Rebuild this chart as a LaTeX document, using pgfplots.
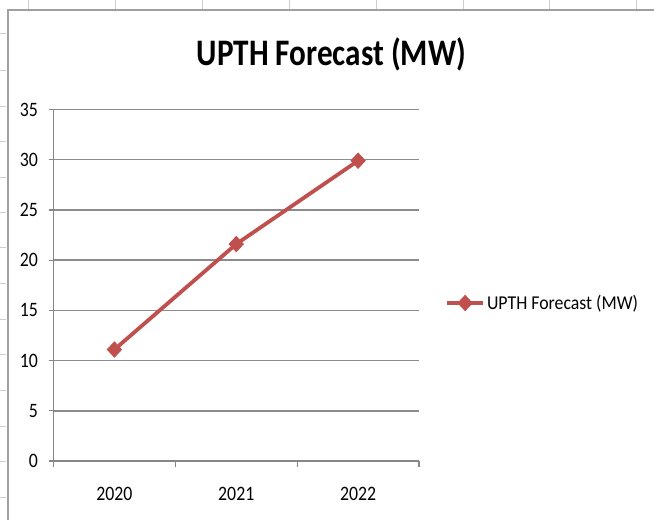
\documentclass[border=0pt]{standalone}
\usepackage{pgfplots}
\pgfplotsset{compat=1.18}
\usepackage{fontspec}
\setmainfont{Carlito}
\definecolor{axisgray}{RGB}{134,134,134}
\definecolor{gridgray}{RGB}{140,140,140}
\definecolor{linered}{RGB}{192,80,77}
\definecolor{framegray}{RGB}{160,160,160}
\definecolor{cellgray}{RGB}{205,205,205}
\begin{document}
\begin{tikzpicture}
\path[use as bounding box] (0,0) rectangle (654bp,520bp);
% spreadsheet background marks
\foreach \x in {28,115,202,289,376,463,549,636} \draw[cellgray, line width=0.8bp] (\x bp,520bp) -- (\x bp,511bp);
\foreach \y in {33,70,106,141,177,212,247,283,319,354,390,426,461,497} \draw[cellgray, line width=0.8bp] (0bp,520bp-\y bp) -- (6bp,520bp-\y bp);
% chart frame
\draw[framegray, line width=1.5bp] (8bp,-5bp) -- (8bp,510bp) -- (660bp,510bp);
% title
\node[anchor=base, inner sep=0pt] at (331.5bp,454bp) {\scalebox{1}[1.2]{\fontsize{31.2bp}{34bp}\selectfont\bfseries UPTH Forecast (MW)}};
\begin{axis}[
  at={(53.5bp,59bp)}, anchor=south west,
  scale only axis, width=365.5bp, height=351.5bp,
  xmin=-0.5, xmax=2.5, ymin=0, ymax=35,
  axis lines*=left,
  axis line style={draw=axisgray, line width=1.2bp},
  tick align=outside,
  major tick length=5bp, minor tick length=6bp,
  xtick={0,1,2},
  xticklabels={\scalebox{1}[1.15]{2020},\scalebox{1}[1.15]{2021},\scalebox{1}[1.15]{2022}},
  minor xtick={-0.5,0.5,1.5,2.5},
  major x tick style={draw=none},
  minor x tick style={draw=axisgray, line width=1.2bp},
  ytick={0,5,...,35},
  y tick style={draw=axisgray, line width=1.2bp},
  ymajorgrids,
  major grid style={draw=gridgray, line width=1.5bp},
  /pgf/number format/assume math mode=true,
  yticklabel={\scalebox{1}[1.15]{\pgfmathprintnumber{\tick}}},
  tick label style={font=\fontsize{17.8bp}{20bp}\selectfont, inner sep=0pt},
  yticklabel style={anchor=east, xshift=-10.5bp},
  xticklabel style={anchor=north, yshift=-21.5bp},
  clip=false,
  legend style={at={(1.0712,0.4495)}, anchor=west, draw=none, fill=none, inner sep=0pt,
    font=\fontsize{17.8bp}{20bp}\selectfont, nodes={inner sep=2bp}},
  legend cell align=left,
  legend image code/.code={\draw[mark repeat=2,mark phase=2,#1] plot coordinates {(0bp,0bp) (18bp,0bp) (36bp,0bp)};},
]
\addplot[color=linered, line width=3.8bp, mark=diamond*, mark size=7.5bp, mark options={solid, xscale=1.25, fill=linered, line width=1bp}]
  coordinates {(0,11.1) (1,21.6) (2,29.9)};
\addlegendentry{\scalebox{1}[1.1]{UPTH Forecast (MW)}}
\end{axis}
\end{tikzpicture}
\end{document}
